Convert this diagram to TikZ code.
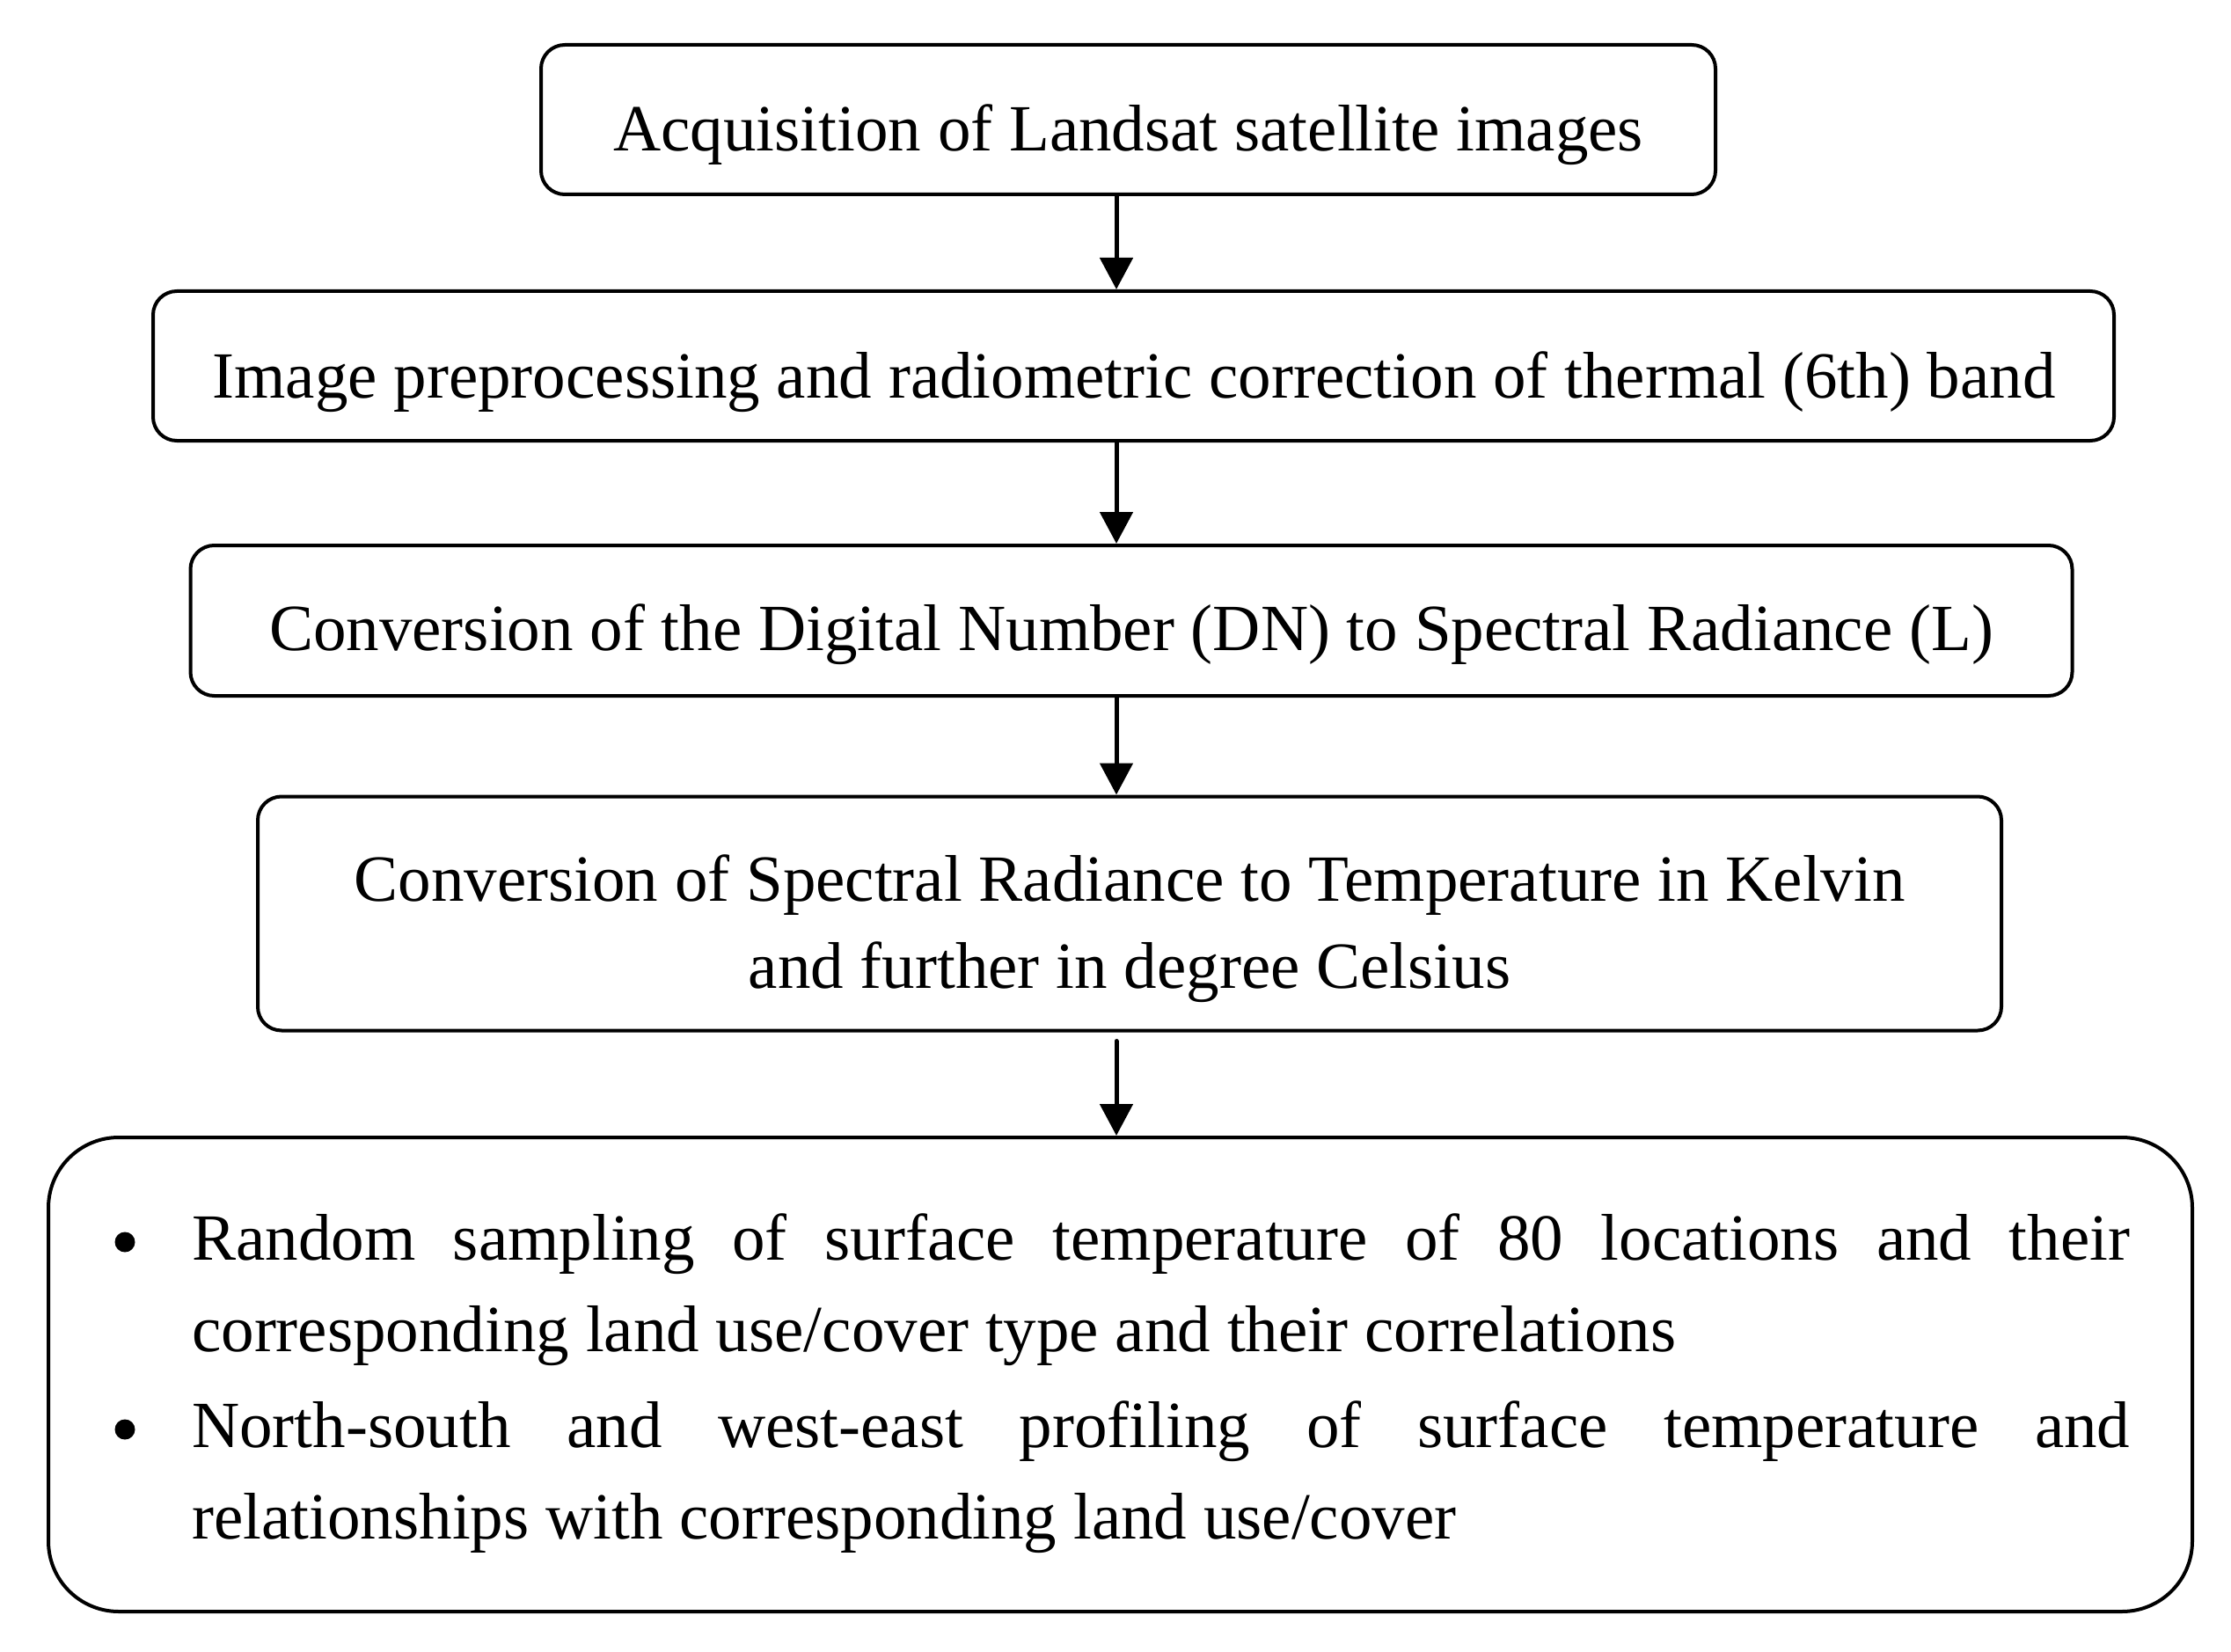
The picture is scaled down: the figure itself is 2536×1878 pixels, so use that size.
\documentclass[tikz,border=0pt]{standalone}
\usepackage{fontspec}
\setmainfont{Liberation Serif}
\usetikzlibrary{arrows.meta}
\begin{document}
\begin{tikzpicture}[x=1pt,y=-1pt,
  box/.style={draw, line width=4pt, rounded corners=27pt, inner sep=0pt},
  bigbox/.style={draw, line width=4pt, rounded corners=80pt, inner sep=0pt},
  lbl/.style={inner sep=0pt, anchor=base, font=\fontsize{75}{104}\selectfont},
  item/.style={inner sep=0pt, anchor=base west, text width=2203pt, align=justify,
    font=\fontsize{75}{104}\selectfont},
  dot/.style={circle, fill, inner sep=0pt, minimum size=23pt},
  flow/.style={line width=5pt, -{Triangle[length=36pt,width=37pt]}},
]
\useasboundingbox (0,0) rectangle (2536,1878);
% boxes
\node[box, minimum width=1335pt, minimum height=170pt] (b1) at (1282.5,136) {};
\node[box, minimum width=2229pt, minimum height=170pt] (b2) at (1288.5,416) {};
\node[box, minimum width=2139pt, minimum height=171pt] (b3) at (1286,705.5) {};
\node[box, minimum width=1982pt, minimum height=266pt] (b4) at (1284,1038.5) {};
\node[bigbox, minimum width=2437pt, minimum height=539pt] (b5) at (1273.5,1562.5) {};
% texts
\node[lbl] (t1) at (1282.5,172) {Acquisition of Landsat satellite images};
\node[lbl] (t2) at (1289,452) {Image preprocessing and radiometric correction of thermal (6th) band};
\node[lbl] (t3) at (1286,739) {Conversion of the Digital Number (DN) to Spectral Radiance (L)};
\node[lbl] (t4a) at (1284,1024) {Conversion of Spectral Radiance to Temperature in Kelvin};
\node[lbl] (t4b) at (1284,1123) {and further in degree Celsius};
\node[dot] (u1) at (142,1412) {};
\node[item] (i1) at (218,1432) {\sloppy Random sampling of surface temperature of 80 locations and their\linebreak corresponding land use/cover type and their correlations};
\node[dot] (u2) at (142,1625) {};
\node[item] (i2) at (218,1645) {\sloppy North-south and west-east profiling of surface temperature and\linebreak relationships with corresponding land use/cover};
% arrows
\coordinate (ax) at (1269,0);
\draw[flow] (b1.south -| ax) -- (b2.north -| ax);
\draw[flow] (b2.south -| ax) -- (b3.north -| ax);
\draw[flow] (b3.south -| ax) -- (b4.north -| ax);
\draw[flow, line cap=round, shorten <=10pt] (b4.south -| ax) -- (b5.north -| ax);
\end{tikzpicture}
\end{document}
